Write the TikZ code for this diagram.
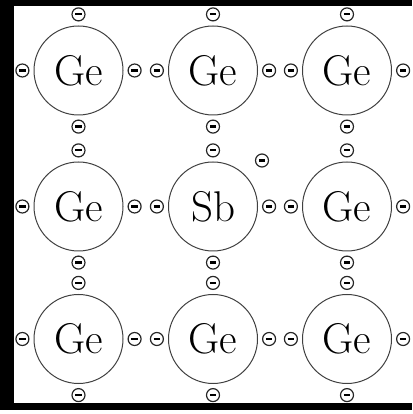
\documentclass[tikz,border=0pt]{standalone}
\usetikzlibrary{positioning, calc}

\tikzset{
  atom/.style={
    draw=black!75, circle, minimum size=89pt, inner sep=0pt, line width=1pt,
    font=\fontsize{43}{43}\selectfont
  },
  electron/.style={
    draw=black!85, circle, minimum size=13pt, inner sep=0pt, line width=1.2pt,
    fill=white
  },
  frameline/.style={fill=black}
}
\newcommand{\minus}{\rule{6.5pt}{2.2pt}}

\begin{document}
\begin{tikzpicture}[x=1pt, y=1pt]
  \useasboundingbox (0,0) rectangle (412,414);
  % frame
  \fill[frameline] (0,408) rectangle (412,414);
  \fill[frameline] (0,4) rectangle (14,414);
  \fill[frameline] (0,4) rectangle (412,11);

  % lattice
  \node[atom] (ge1) at (78.5,343.5) {Ge};
  \node[atom] (ge2) at (213,343.5) {Ge};
  \node[atom] (ge3) at (347,343.5) {Ge};
  \node[atom] (ge4) at (78.5,207.5) {Ge};
  \node[atom] (sb)  at (213,207.5) {Sb};
  \node[atom] (ge5) at (347,207.5) {Ge};
  \node[atom] (ge6) at (78.5,75) {Ge};
  \node[atom] (ge7) at (213,75) {Ge};
  \node[atom] (ge8) at (347,75) {Ge};

  % valence electrons
  \foreach \a in {ge1,ge2,ge3,ge4,sb,ge5,ge6,ge7,ge8} {
    \node[electron, above=4pt of \a] (\a-n) {\minus};
    \node[electron, below=4pt of \a] (\a-s) {\minus};
    \node[electron, left=4pt of \a]  (\a-w) {\minus};
    \node[electron, right=4pt of \a] (\a-e) {\minus};
  }
  % the extra one from Sb
  \node[electron] (free) at ($(sb)+(49,46)$) {\minus};
\end{tikzpicture}
\end{document}
